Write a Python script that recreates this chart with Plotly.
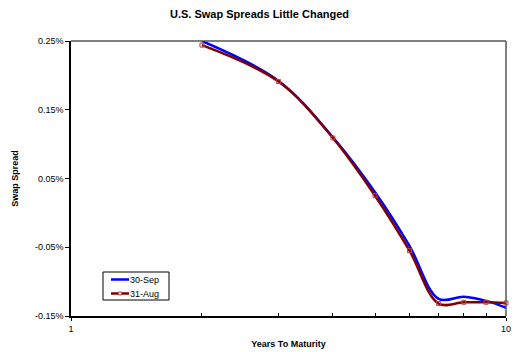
import plotly.graph_objects as go

years = [2, 3, 4, 5, 6, 7, 8, 9, 10]
sep30 = [0.250, 0.192, 0.110, 0.030, -0.048, -0.125, -0.122, -0.128, -0.138]
aug31 = [0.244, 0.191, 0.109, 0.025, -0.055, -0.132, -0.130, -0.130, -0.131]
y_ticks = [0.25, 0.15, 0.05, -0.05, -0.15]
y_labels = ["0.25%", "0.15%", "0.05%", "-0.05%", "-0.15%"]
series_names = ["30-Sep", "31-Aug"]
series_colors = ["#0000FF", "#800000"]

W, H = 519, 352
L, R, T, B = 71, 13, 41, 36

fig = go.Figure()
fig.add_trace(go.Scatter(
    x=years, y=sep30, name=series_names[0], mode="lines",
    line=dict(color=series_colors[0], width=2.5, shape="spline", smoothing=1.0),
    cliponaxis=False,
))
fig.add_trace(go.Scatter(
    x=years, y=aug31, name=series_names[1], mode="lines+markers",
    line=dict(color=series_colors[1], width=2.5, shape="spline", smoothing=1.0),
    marker=dict(symbol="square-open", size=4, color="#C04040", line=dict(width=1)),
    cliponaxis=False,
))

fig.update_layout(
    width=W, height=H,
    margin=dict(l=L, r=R, t=T, b=B),
    paper_bgcolor="white", plot_bgcolor="white",
    font=dict(family="Arial, Liberation Sans, sans-serif", size=9, color="black"),
    title=dict(text="<b>U.S. Swap Spreads Little Changed</b>", x=0.5, xanchor="center",
               yref="container", y=1 - 14 / H, yanchor="middle", font=dict(size=11), pad=dict(t=0, b=0)),
    showlegend=False,
)
fig.update_xaxes(
    type="log", range=[0, 1], automargin=False,
    tickvals=[1, 10], ticktext=["1", "10"],
    ticks="outside", ticklen=3, tickcolor="black",
    minor=dict(tickvals=[2, 3, 4, 5, 6, 7, 8, 9], ticks="inside", ticklen=3, tickcolor="black"),
    showgrid=False, zeroline=False,
    showline=True, linecolor="black", linewidth=1.5, mirror=False,
    title=dict(text="<b>Years To Maturity</b>", font=dict(size=9), standoff=8),
)
fig.update_yaxes(
    range=[-0.15, 0.25], automargin=False,
    tickvals=y_ticks, ticktext=y_labels,
    ticks="outside", ticklen=4, tickcolor="black",
    showgrid=False, zeroline=False,
    showline=True, linecolor="black", linewidth=1.5, mirror=False,
    title=dict(text="<b>Swap Spread</b>", font=dict(size=9), standoff=15),
)
# gray frame on top and right
fig.add_shape(type="line", xref="paper", yref="paper", x0=0, x1=1, y0=1, y1=1,
              line=dict(color="#555555", width=1.5))
fig.add_shape(type="line", xref="paper", yref="paper", x0=1, x1=1, y0=0, y1=1,
              line=dict(color="#555555", width=1.5))

# compact legend box (pixel layout converted to paper coords)
pw, ph = W - L - R, H - T - B
def px(x):
    return (x - L) / pw
def py(y):
    return (H - B - y) / ph

fig.add_shape(type="rect", xref="paper", yref="paper",
              x0=px(103), x1=px(169), y0=py(300), y1=py(272),
              line=dict(color="black", width=1), fillcolor="white")
for i, (name, col) in enumerate(zip(series_names, series_colors)):
    yy = 279.5 + i * 14
    fig.add_shape(type="line", xref="paper", yref="paper",
                  x0=px(111), x1=px(129), y0=py(yy), y1=py(yy),
                  line=dict(color=col, width=2.5))
    if i == 1:
        fig.add_shape(type="rect", xref="paper", yref="paper",
                      x0=px(118.5), x1=px(121.5), y0=py(yy + 1.5), y1=py(yy - 1.5),
                      line=dict(color="#C04040", width=1), fillcolor="white")
    fig.add_annotation(xref="paper", yref="paper", x=px(128), y=py(yy),
                       text=name, showarrow=False, xanchor="left", yanchor="middle",
                       font=dict(size=9))

fig.write_html("out.html", config={"displayModeBar": False},
               post_script="document.body.style.margin='0';document.body.style.overflow='hidden';")
